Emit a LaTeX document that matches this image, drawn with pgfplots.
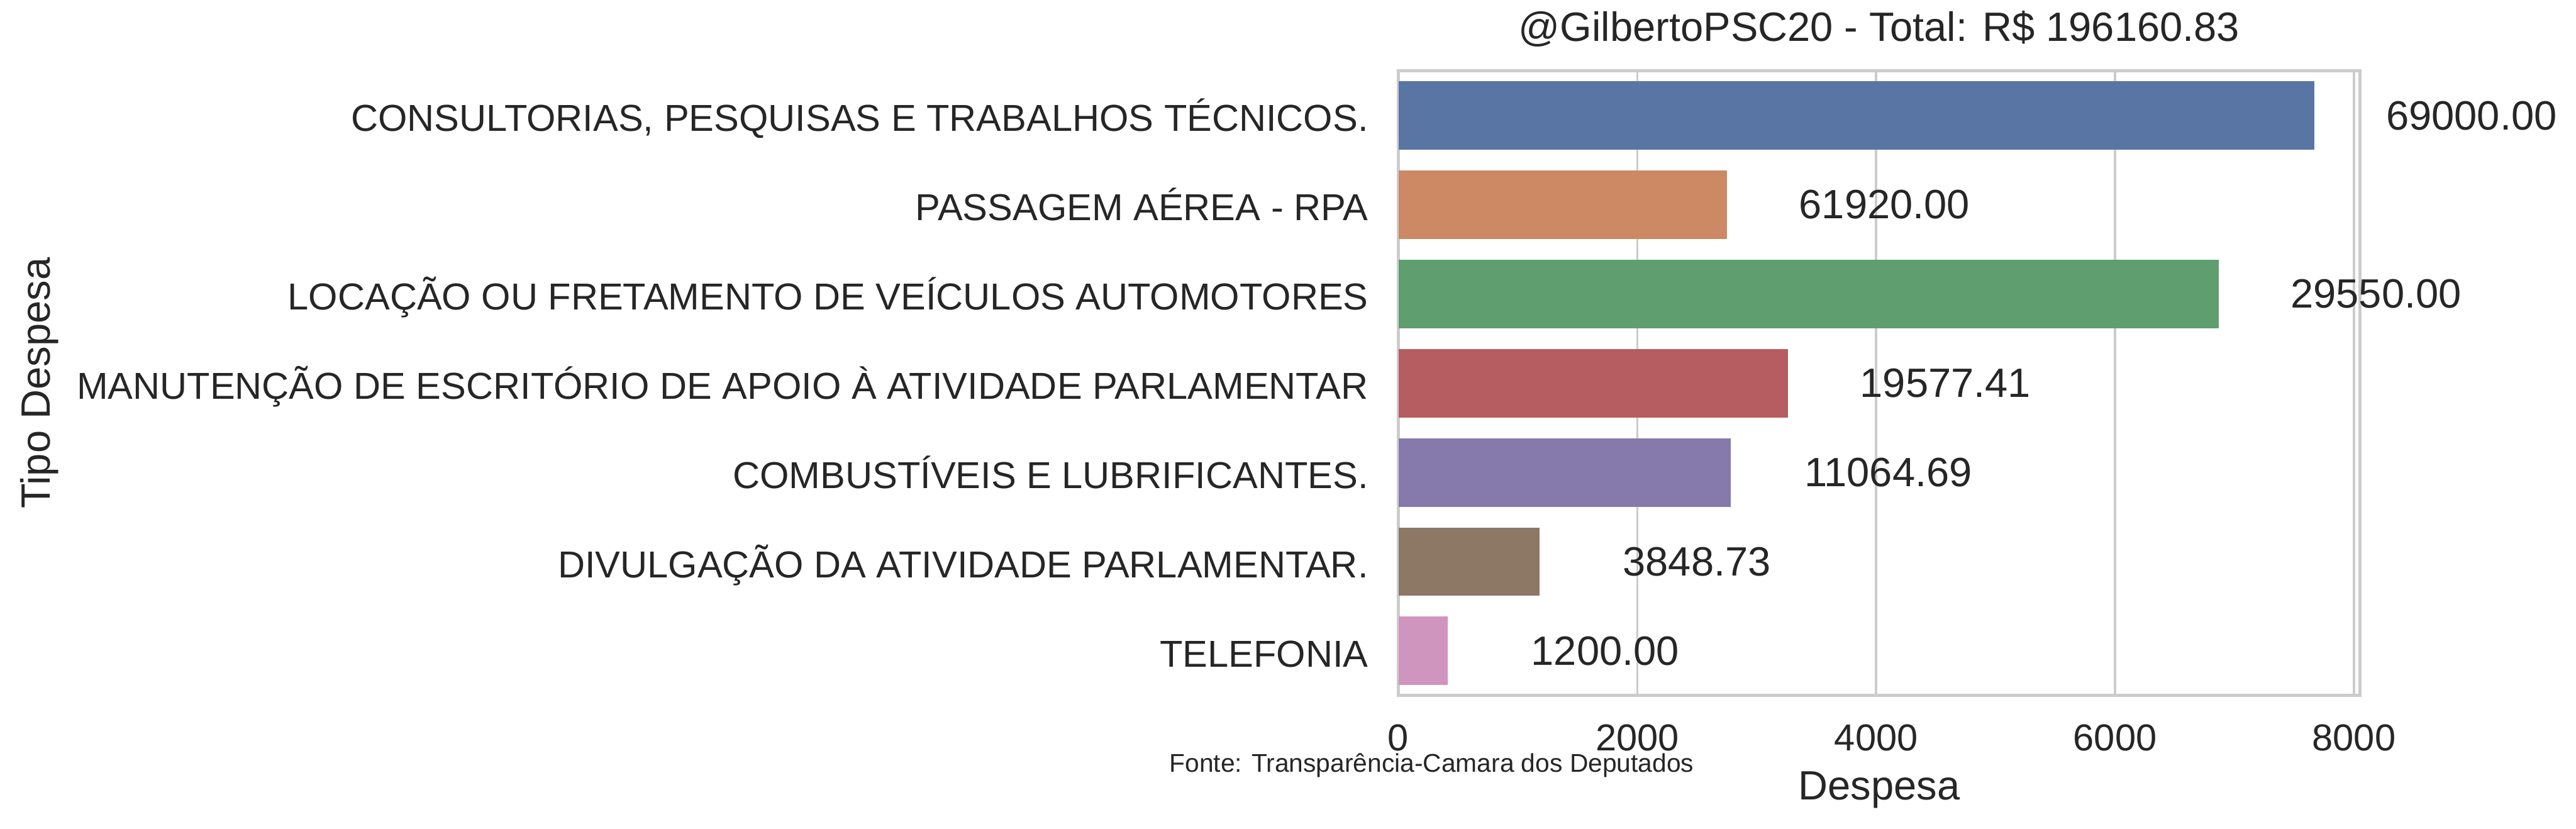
\documentclass[border=0pt]{standalone}
\usepackage{fontspec}
\setmainfont{Liberation Sans}
\usepackage{pgfplots}
\pgfplotsset{compat=1.18}
\definecolor{txt}{HTML}{262626}
\definecolor{gridc}{HTML}{CCCCCC}
\definecolor{c1}{HTML}{5975A4}
\definecolor{c2}{HTML}{CC8963}
\definecolor{c3}{HTML}{5F9E6E}
\definecolor{c4}{HTML}{B55D60}
\definecolor{c5}{HTML}{857AAB}
\definecolor{c6}{HTML}{8D7866}
\definecolor{c7}{HTML}{D095BF}
\begin{document}
\begin{tikzpicture}[x=1pt,y=1pt]
\path[use as bounding box] (0,0) rectangle (1195.7,384.5);
\begin{axis}[
  at={(649.1pt,61.7pt)}, anchor=south west,
  scale only axis, width=446.3pt, height=289.9pt,
  xmin=0, xmax=8050, ymin=-0.5, ymax=6.5, y dir=reverse,
  xbar, bar width=31.8pt,
  xtick={0,2000,4000,6000,8000},
  ytick={0,1,2,3,4,5,6},
  yticklabels={CONSULTORIAS{,} PESQUISAS E TRABALHOS TÉCNICOS.,
               PASSAGEM AÉREA - RPA,
               LOCAÇÃO OU FRETAMENTO DE VEÍCULOS AUTOMOTORES,
               MANUTENÇÃO DE ESCRITÓRIO DE APOIO À ATIVIDADE PARLAMENTAR,
               COMBUSTÍVEIS E LUBRIFICANTES.,
               DIVULGAÇÃO DA ATIVIDADE PARLAMENTAR.,
               TELEFONIA},
  xmajorgrids, ymajorgrids=false,
  grid style={gridc, line width=1.1pt},
  axis line style={gridc, line width=1.4pt},
  major tick length=0pt,
  tick label style={font=\fontsize{17.4}{20}\selectfont, text=txt},
  xticklabel style={inner sep=0pt, anchor=base, yshift=-25.7pt},
  yticklabel style={inner sep=0pt, anchor=base east, xshift=-13.8pt, yshift=-7.4pt},
  /pgf/number format/assume math mode=true,
  /pgf/number format/1000 sep={},
  scaled x ticks=false,
  title={@GilbertoPSC20 - Total: R\$ 196160.83},
  title style={at={(0.5,1.0273)}, anchor=base, inner sep=0pt, font=\fontsize{19}{22}\selectfont, text=txt},
  xlabel={Despesa},
  xlabel style={at={(0.5,-0.1673)}, anchor=base, inner sep=0pt, font=\fontsize{19}{22}\selectfont, text=txt},
  ylabel={Tipo Despesa},
  ylabel style={at={(-1.4022,0.5)}, anchor=base, rotate=0, inner sep=0pt, font=\fontsize{19}{22}\selectfont, text=txt},
  clip=false,
]
\addplot[fill=c1, draw=none, bar shift=0pt] coordinates {(7666.67,0)};
\addplot[fill=c2, draw=none, bar shift=0pt] coordinates {(2752,1)};
\addplot[fill=c3, draw=none, bar shift=0pt] coordinates {(6868,2)};
\addplot[fill=c4, draw=none, bar shift=0pt] coordinates {(3263,3)};
\addplot[fill=c5, draw=none, bar shift=0pt] coordinates {(2784,4)};
\addplot[fill=c6, draw=none, bar shift=0pt] coordinates {(1182,5)};
\addplot[fill=c7, draw=none, bar shift=0pt] coordinates {(414,6)};
\begin{scope}[every node/.style={anchor=center, inner sep=0pt, text=txt, font=\fontsize{19}{22}\selectfont}]
\node at (axis cs:8984,0) {69000.00};
\node at (axis cs:4069,1) {61920.00};
\node at (axis cs:8185,2) {29550.00};
\node at (axis cs:4580,3) {19577.41};
\node at (axis cs:4101,4) {11064.69};
\node at (axis cs:2499,5) {3848.73};
\node at (axis cs:1731,6) {1200.00};
\end{scope}
\node[anchor=base west, inner sep=0pt, text=txt, font=\fontsize{11.9}{14}\selectfont] at (axis description cs:-0.2386,-0.1225) {Fonte: Transparência-Camara dos Deputados};
\end{axis}
\end{tikzpicture}
\end{document}
